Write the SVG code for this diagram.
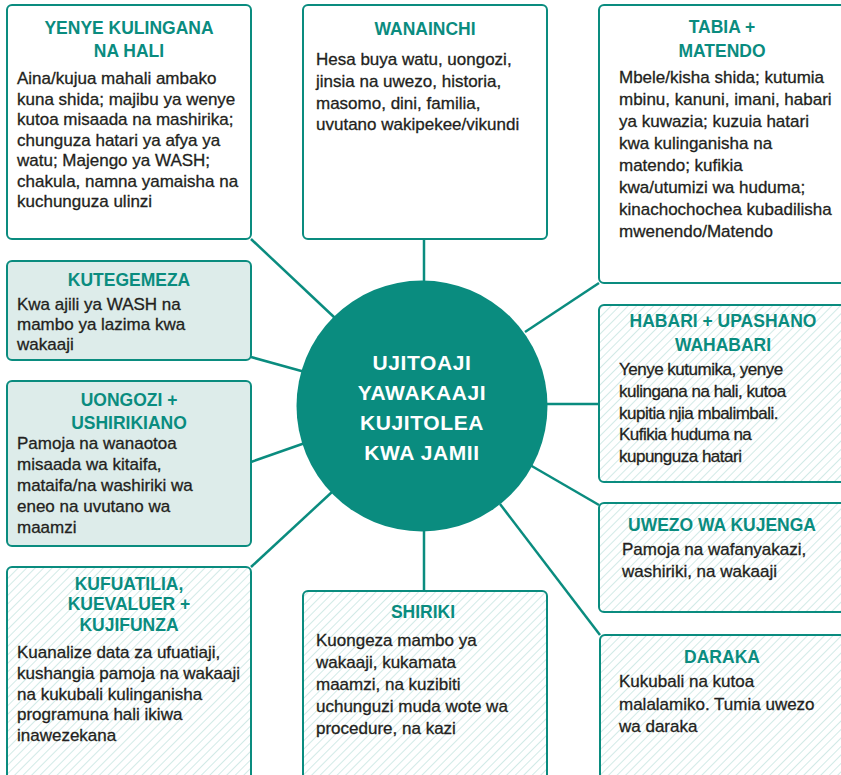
<svg xmlns="http://www.w3.org/2000/svg" width="841" height="775" viewBox="0 0 841 775">
<defs>
<pattern id="hatch" patternUnits="userSpaceOnUse" width="6" height="6" patternTransform="rotate(45)">
<line x1="0" y1="0" x2="0" y2="6" stroke="#B3DCD6" stroke-width="1.2"/>
</pattern>
<style>
.box{fill:#ffffff;stroke:#0A8C7F;stroke-width:2}
.tint{fill:#DDECEA;stroke:#0A8C7F;stroke-width:2}
.hat{fill:url(#hatch);stroke:#0A8C7F;stroke-width:2}
.hd{font-family:"Liberation Sans",Arial,sans-serif;font-weight:bold;font-size:17.5px;fill:#0A8C7F;text-anchor:middle}
.bd{font-family:"Liberation Sans",Arial,sans-serif;font-size:17px;fill:#231F20;stroke:#231F20;stroke-width:0.3}
.tight{letter-spacing:-0.5px}
.ct{font-family:"Liberation Sans",Arial,sans-serif;font-weight:bold;font-size:21px;fill:#ffffff;text-anchor:middle;letter-spacing:0.6px}
.cn{stroke:#0A8C7F;stroke-width:2.5;fill:none}
</style>
</defs>
<rect width="841" height="775" fill="#ffffff"/>
<g id="connectors">
<line class="cn" x1="251" y1="239" x2="335" y2="318"/>
<line class="cn" x1="424" y1="239" x2="424" y2="290"/>
<line class="cn" x1="599" y1="283" x2="525" y2="332"/>
<line class="cn" x1="251" y1="357" x2="305" y2="372"/>
<line class="cn" x1="251" y1="462" x2="305" y2="443"/>
<line class="cn" x1="540" y1="404" x2="599" y2="404"/>
<line class="cn" x1="530" y1="465" x2="599" y2="505"/>
<line class="cn" x1="500" y1="504" x2="600" y2="635"/>
<line class="cn" x1="424" y1="520" x2="424" y2="591"/>
<line class="cn" x1="251" y1="567" x2="332" y2="492"/>
</g>
<g id="center">
<circle cx="422" cy="406" r="125.5" fill="#0A8C7F"/>
<text class="ct" x="422" y="370">UJITOAJI</text>
<text class="ct" x="422" y="400">YAWAKAAJI</text>
<text class="ct" x="422" y="430">KUJITOLEA</text>
<text class="ct" x="422" y="460">KWA JAMII</text>
</g>
<g id="yenye-kulingana">
<rect class="box" x="7" y="5" width="244" height="234" rx="5"/>
<text class="hd" x="129" y="34">YENYE KULINGANA</text>
<text class="hd" x="129" y="57">NA HALI</text>
<text class="bd" x="17" y="84">Aina/kujua mahali ambako</text>
<text class="bd" x="17" y="104.5">kuna shida; majibu ya wenye</text>
<text class="bd" x="17" y="125">kutoa misaada na mashirika;</text>
<text class="bd" x="17" y="145.5">chunguza hatari ya afya ya</text>
<text class="bd" x="17" y="166">watu; Majengo ya WASH;</text>
<text class="bd" x="17" y="186.5">chakula, namna yamaisha na</text>
<text class="bd" x="17" y="207">kuchunguza ulinzi</text>
</g>
<g id="wanainchi">
<rect class="box" x="303" y="5" width="244" height="234" rx="5"/>
<text class="hd" x="425" y="35">WANAINCHI</text>
<text class="bd" x="316" y="65">Hesa buya watu, uongozi,</text>
<text class="bd" x="316" y="87">jinsia na uwezo, historia,</text>
<text class="bd" x="316" y="108.5">masomo, dini, familia,</text>
<text class="bd" x="316" y="130">uvutano wakipekee/vikundi</text>
</g>
<g id="tabia-matendo">
<rect class="box" x="599" y="5" width="246" height="278" rx="5"/>
<text class="hd" x="722" y="33">TABIA +</text>
<text class="hd" x="722" y="57">MATENDO</text>
<text class="bd" x="619" y="83">Mbele/kisha shida; kutumia</text>
<text class="bd" x="619" y="105">mbinu, kanuni, imani, habari</text>
<text class="bd" x="619" y="127">ya kuwazia; kuzuia hatari</text>
<text class="bd" x="619" y="149">kwa kulinganisha na</text>
<text class="bd" x="619" y="171">matendo; kufikia</text>
<text class="bd" x="619" y="193">kwa/utumizi wa huduma;</text>
<text class="bd" x="619" y="215">kinachochochea kubadilisha</text>
<text class="bd" x="619" y="237">mwenendo/Matendo</text>
</g>
<g id="kutegemeza">
<rect class="tint" x="7" y="261" width="244" height="99" rx="5"/>
<text class="hd" x="129" y="286">KUTEGEMEZA</text>
<text class="bd" x="17" y="310">Kwa ajili ya WASH na</text>
<text class="bd" x="17" y="330">mambo ya lazima kwa</text>
<text class="bd" x="17" y="350">wakaaji</text>
</g>
<g id="uongozi-ushirikiano">
<rect class="tint" x="7" y="381" width="244" height="165" rx="5"/>
<text class="hd" x="129" y="406">UONGOZI +</text>
<text class="hd" x="129" y="429">USHIRIKIANO</text>
<text class="bd" x="17" y="449">Pamoja na wanaotoa</text>
<text class="bd" x="17" y="470">misaada wa kitaifa,</text>
<text class="bd" x="17" y="491">mataifa/na washiriki wa</text>
<text class="bd" x="17" y="512">eneo na uvutano wa</text>
<text class="bd" x="17" y="533">maamzi</text>
</g>
<g id="habari-upashano">
<rect class="hat" x="599" y="305" width="246" height="177" rx="5"/>
<text class="hd" x="723" y="327">HABARI + UPASHANO</text>
<text class="hd" x="723" y="351">WAHABARI</text>
<text class="bd tight" x="619" y="375">Yenye kutumika, yenye</text>
<text class="bd tight" x="619" y="397">kulingana na hali, kutoa</text>
<text class="bd tight" x="619" y="418.5">kupitia njia mbalimbali.</text>
<text class="bd tight" x="619" y="440">Kufikia huduma na</text>
<text class="bd tight" x="619" y="462">kupunguza hatari</text>
</g>
<g id="uwezo-wa-kujenga">
<rect class="hat" x="599" y="503" width="246" height="109" rx="5"/>
<text class="hd" x="722" y="531">UWEZO WA KUJENGA</text>
<text class="bd" x="622" y="555">Pamoja na wafanyakazi,</text>
<text class="bd" x="622" y="577">washiriki, na wakaaji</text>
</g>
<g id="daraka">
<rect class="hat" x="600" y="635" width="246" height="150" rx="5"/>
<text class="hd" x="722" y="663">DARAKA</text>
<text class="bd" x="619" y="687">Kukubali na kutoa</text>
<text class="bd" x="619" y="710">malalamiko. Tumia uwezo</text>
<text class="bd" x="619" y="732">wa daraka</text>
</g>
<g id="shiriki">
<rect class="hat" x="303" y="591" width="244" height="194" rx="5"/>
<text class="hd" x="423" y="618">SHIRIKI</text>
<text class="bd" x="316" y="646">Kuongeza mambo ya</text>
<text class="bd" x="316" y="668">wakaaji, kukamata</text>
<text class="bd" x="316" y="690">maamzi, na kuzibiti</text>
<text class="bd" x="316" y="712">uchunguzi muda wote wa</text>
<text class="bd" x="316" y="734">procedure, na kazi</text>
</g>
<g id="kufuatilia">
<rect class="hat" x="7" y="567" width="244" height="218" rx="5"/>
<text class="hd" x="129" y="590">KUFUATILIA,</text>
<text class="hd" x="129" y="610">KUEVALUER +</text>
<text class="hd" x="129" y="631">KUJIFUNZA</text>
<text class="bd" x="17" y="658">Kuanalize data za ufuatiaji,</text>
<text class="bd" x="17" y="679">kushangia pamoja na wakaaji</text>
<text class="bd" x="17" y="699.5">na kukubali kulinganisha</text>
<text class="bd" x="17" y="720">programuna hali ikiwa</text>
<text class="bd" x="17" y="741">inawezekana</text>
</g>
</svg>
